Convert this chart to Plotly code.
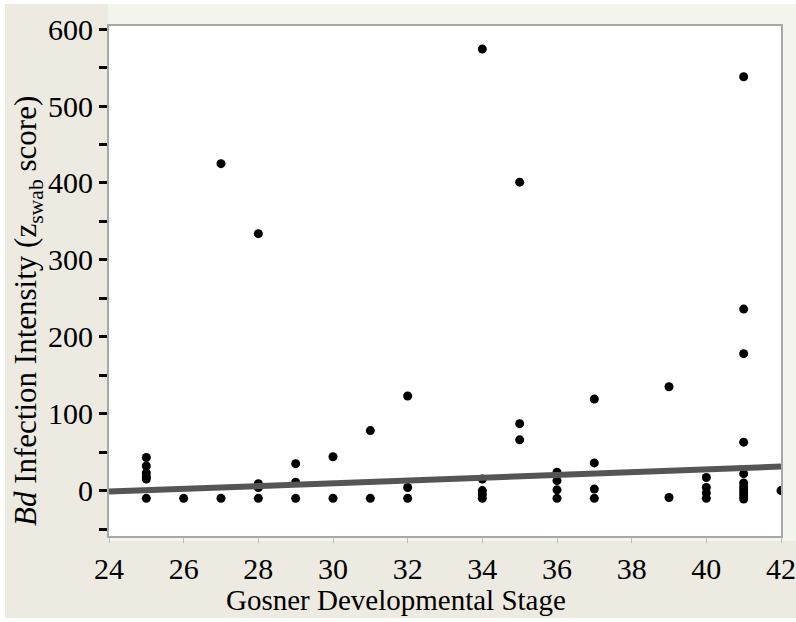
import plotly.graph_objects as go

# Gosner stage (x) and Bd infection intensity (y)
stage = [25, 25, 25, 25, 25, 25,
         26,
         27, 27,
         28, 28, 28, 28,
         29, 29, 29,
         30, 30,
         31, 31,
         32, 32, 32,
         34, 34, 34, 34, 34,
         35, 35, 35,
         36, 36, 36, 36,
         37, 37, 37, 37,
         39, 39,
         40, 40, 40, 40,
         41, 41, 41, 41, 41, 41, 41, 41, 41, 41, 41,
         42]
intensity = [43, 32, 23, 18, 15, -10,
             -10,
             425, -10,
             334, 9, 4, -10,
             35, 11, -10,
             44, -10,
             78, -10,
             123, 4, -10,
             574, 15, 0, -5, -10,
             401, 87, 66,
             24, 13, 1, -10,
             119, 36, 2, -10,
             135, -9,
             17, 4, -3, -10,
             538, 236, 178, 63, 22, 10, 5, 1, -3, -7, -11,
             0]

fit_x = [24, 42]
fit_y = [-1.3, 31.2]

x_ticks = [24, 26, 28, 30, 32, 34, 36, 38, 40, 42]
y_ticks = [0, 100, 200, 300, 400, 500, 600]
y_minor = [-50, 50, 150, 250, 350, 450, 550]

FONT = "Liberation Serif"

fig = go.Figure()
fig.add_trace(go.Scatter(x=stage, y=intensity, mode="markers",
                         marker=dict(color="black", size=9, line=dict(width=0)),
                         cliponaxis=True, showlegend=False))
fig.add_trace(go.Scatter(x=fit_x, y=fit_y, mode="lines",
                         line=dict(color="#555555", width=6),
                         showlegend=False))

W, H = 796, 622
L, R, T, B = 109, 781, 26, 536
pw, ph = R - L, B - T

def px(xp):
    return (xp - L) / pw

def py(yp):
    return (B - yp) / ph

BEIGE = "#ECEAE1"
LIGHT = "#F4F4EF"
def rect(x0, x1, y0, y1, color):
    return dict(type="rect", xref="paper", yref="paper",
                x0=px(x0), x1=px(x1), y0=py(y1), y1=py(y0),
                fillcolor=color, line=dict(width=0), layer="below")

shapes = [
    rect(5, 108, 4, 618, BEIGE),      # left axis area
    rect(5, 796, 541, 618, BEIGE),    # bottom axis area
    rect(108, 796, 4, 26, LIGHT),     # top strip
    rect(781, 796, 4, 541, LIGHT),    # right strip
    rect(108, 781, 536, 541, LIGHT),  # band below frame
]

annotations = [
    dict(text="<i>Bd</i> Infection Intensity (z<sub>swab</sub> score)", textangle=-90,
         xref="paper", yref="paper", x=px(28), y=py(311), xanchor="center", yanchor="middle",
         showarrow=False, font=dict(family=FONT, size=31, color="black")),
    dict(text="Gosner Developmental Stage",
         xref="paper", yref="paper", x=px(396), y=py(600), xanchor="center", yanchor="middle",
         showarrow=False, font=dict(family=FONT, size=29, color="black")),
]

fig.update_layout(
    width=W, height=H, autosize=False,
    margin=dict(l=L, r=W - R, t=T, b=H - B, pad=0, autoexpand=False),
    paper_bgcolor="white", plot_bgcolor="white",
    font=dict(family=FONT, size=30, color="black"),
    shapes=shapes, annotations=annotations,
    showlegend=False,
)
fig.update_xaxes(range=[24, 42], tickvals=x_ticks, ticktext=[str(v) for v in x_ticks],
                 automargin=False,
                 showgrid=False, zeroline=False,
                 showline=True, linecolor="#A8A8A8", linewidth=2, mirror=True,
                 ticks="outside", ticklen=5, tickwidth=1, tickcolor="#BDBDBD",
                 tickfont=dict(family=FONT, size=30, color="black"))
fig.update_yaxes(range=[-59, 604], tickvals=y_ticks, ticktext=[str(v) for v in y_ticks],
                 automargin=False,
                 showgrid=False, zeroline=False,
                 showline=True, linecolor="#A8A8A8", linewidth=2, mirror=True,
                 ticks="outside", ticklen=8, tickwidth=3, tickcolor="black",
                 minor=dict(tickvals=y_minor, ticks="outside",
                            ticklen=8, tickwidth=3, tickcolor="black"),
                 tickfont=dict(family=FONT, size=30, color="black"))

fig.write_html("out.html")
